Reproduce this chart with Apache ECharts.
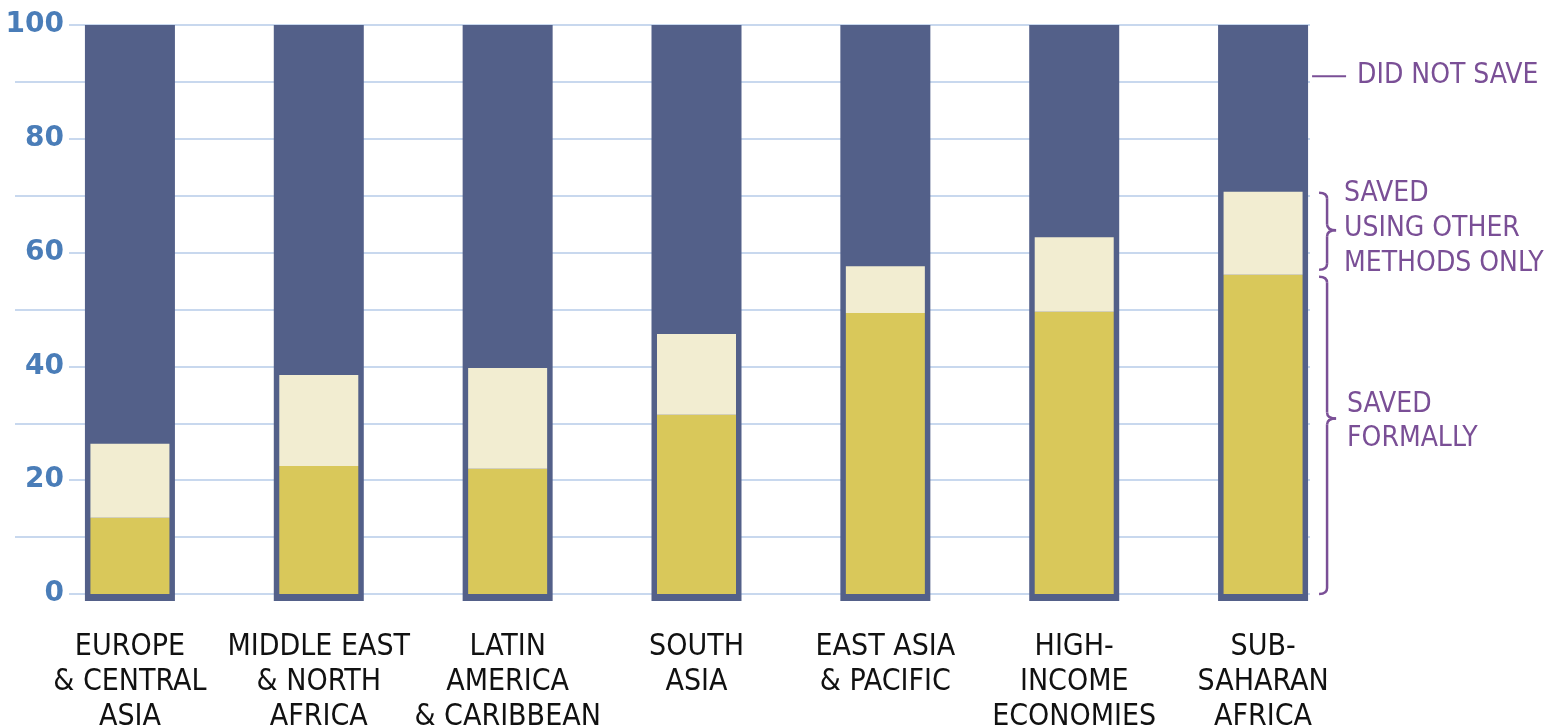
<!DOCTYPE html>
<html>
<head>
<meta charset="utf-8">
<script src="https://cdn.jsdelivr.net/npm/echarts@6/dist/echarts.min.js"></script>
<style>
  html, body { margin: 0; padding: 0; background: #fff; }
  #chart { width: 1545px; height: 728px; }
</style>
</head>
<body>
<div id="chart"></div>
<script>
const categories = [
  'EUROPE\n& CENTRAL\nASIA',
  'MIDDLE EAST\n& NORTH\nAFRICA',
  'LATIN\nAMERICA\n& CARIBBEAN',
  'SOUTH\nASIA',
  'EAST ASIA\n& PACIFIC',
  'HIGH-\nINCOME\nECONOMIES',
  'SUB-\nSAHARAN\nAFRICA'
];
// percent of adults
const savedFormally = [13.4, 22.5, 22.0, 31.5, 49.4, 49.6, 56.1];
const savedOtherOnly = [13.0, 16.0, 17.7, 14.2, 8.2, 13.1, 14.6];
const totalPct = [100, 100, 100, 100, 100, 100, 100];
const frameBase = [-1.25, -1.25, -1.25, -1.25, -1.25, -1.25, -1.25];

const DARK = '#536089';
const YELLOW = '#d9c85a';
const CREAM = '#f2edd1';
const GRID = '#c8d8ee';
const PURPLE = '#7a4f96';
const NARROW = '"Liberation Sans Narrow", "DejaVu Sans Condensed", sans-serif';

const chart = echarts.init(document.getElementById('chart'));

const option = {
  animation: false,
  grid: [
    // gridlines + y labels
    { left: 15, right: 235, top: 25, bottom: 134, outerBoundsMode: 'none', containLabel: false },
    // bars
    { left: 35.5, right: 187.5, top: 25, bottom: 134, outerBoundsMode: 'none', containLabel: false }
  ],
  xAxis: [
    { gridIndex: 0, type: 'value', min: 0, max: 1, show: false },
    {
      gridIndex: 1, type: 'category', data: categories,
      axisLine: { show: false }, axisTick: { show: false },
      axisLabel: {
        margin: 36, color: '#111', fontFamily: NARROW, fontSize: 30,
        lineHeight: 35, verticalAlign: 'top', interval: 0
      }
    },
    { gridIndex: 1, type: 'category', data: categories, show: false }
  ],
  yAxis: [
    {
      gridIndex: 0, type: 'value', min: 0, max: 100, interval: 20,
      axisLine: { show: false }, axisTick: { show: false },
      axisLabel: {
        inside: true, align: 'right', margin: 54,
        color: '#4a7db8', fontFamily: 'DejaVu Sans', fontSize: 28, fontWeight: 'bold',
        backgroundColor: '#fff', padding: [0, 5, 0, 50]
      },
      splitLine: { lineStyle: { color: GRID, width: 2 } },
      minorTick: { show: false, splitNumber: 2 },
      minorSplitLine: { show: true, lineStyle: { color: GRID, width: 2 } },
      z: 0
    },
    { gridIndex: 1, type: 'value', min: 0, max: 100, show: false }
  ],
  series: [
    {
      name: 'frame', type: 'bar', xAxisIndex: 1, yAxisIndex: 1,
      stack: 'outer', barWidth: 90, data: totalPct, clip: false,
      itemStyle: { color: DARK }, z: 2
    },
    {
      name: 'frameBase', type: 'bar', xAxisIndex: 1, yAxisIndex: 1,
      stack: 'outer', barWidth: 90, data: frameBase, clip: false,
      itemStyle: { color: DARK }, z: 2
    },
    {
      name: 'SAVED FORMALLY', type: 'bar', xAxisIndex: 2, yAxisIndex: 1,
      stack: 'inner', barWidth: 79, data: savedFormally,
      itemStyle: { color: YELLOW }, z: 3
    },
    {
      name: 'SAVED USING OTHER METHODS ONLY', type: 'bar', xAxisIndex: 2, yAxisIndex: 1,
      stack: 'inner', barWidth: 79, data: savedOtherOnly,
      itemStyle: { color: CREAM }, z: 3
    }
  ]
};

chart.setOption(option);

// annotations next to the last bar
function px(i, v) {
  return chart.convertToPixel({ xAxisIndex: 1, yAxisIndex: 1 }, [i, v]);
}
// curly brace "}" built from lines and quadratic curves
function brace(x0, x1, x2, top, mid, bottom) {
  const r = 6;
  const st = { stroke: PURPLE, lineWidth: 2.5, fill: null };
  const curve = (ax, ay, cx, cy, bx, by) => ({
    type: 'bezierCurve', shape: { x1: ax, y1: ay, cpx1: cx, cpy1: cy, x2: bx, y2: by }, style: st
  });
  const seg = (ax, ay, bx, by) => ({
    type: 'line', shape: { x1: ax, y1: ay, x2: bx, y2: by }, style: st
  });
  return [
    curve(x0, top, x1, top, x1, top + r),
    seg(x1, top + r, x1, mid - r),
    curve(x1, mid - r, x1, mid, x2, mid),
    curve(x2, mid, x1, mid, x1, mid + r),
    seg(x1, mid + r, x1, bottom - r),
    curve(x1, bottom - r, x1, bottom, x0, bottom)
  ];
}

const last = categories.length - 1;
const barRight = px(last, 0)[0] + 46;
const formalTop = px(last, savedFormally[last])[1];
const otherTop = px(last, savedFormally[last] + savedOtherOnly[last])[1];
const zeroY = px(last, 0)[1];
const notSaveY = px(last, 91)[1];

const bx0 = barRight + 10, bx1 = barRight + 18, bx2 = barRight + 27;
const mid1 = (otherTop + formalTop) / 2 - 3;
const mid2 = formalTop + (zeroY - formalTop) * 0.45;
const textFont = '28px ' + NARROW;

chart.setOption({
  graphic: [
    {
      type: 'line', shape: { x1: barRight + 3, y1: notSaveY, x2: barRight + 37, y2: notSaveY },
      style: { stroke: PURPLE, lineWidth: 2 }
    },
    {
      type: 'text', x: barRight + 48, y: notSaveY,
      style: { text: 'DID NOT SAVE', font: textFont, fill: PURPLE, verticalAlign: 'middle' }
    },
    ...brace(bx0, bx1, bx2, otherTop + 1, mid1, formalTop - 5),
    {
      type: 'text', x: barRight + 35, y: mid1 - 2,
      style: {
        text: 'SAVED\nUSING OTHER\nMETHODS ONLY', font: textFont, fill: PURPLE,
        lineHeight: 35, verticalAlign: 'middle'
      }
    },
    ...brace(bx0, bx1, bx2, formalTop + 2, mid2, zeroY),
    {
      type: 'text', x: barRight + 38, y: mid2 + 3,
      style: {
        text: 'SAVED\nFORMALLY', font: textFont, fill: PURPLE,
        lineHeight: 34, verticalAlign: 'middle'
      }
    }
  ]
});
</script>
</body>
</html>
